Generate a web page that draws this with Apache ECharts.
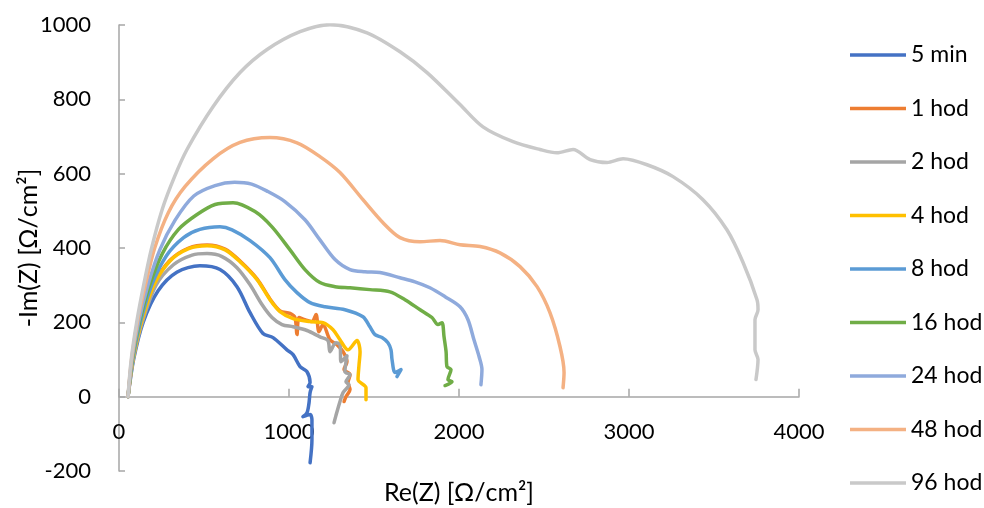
<!DOCTYPE html>
<html>
<head>
<meta charset="utf-8">
<script src="https://cdn.jsdelivr.net/npm/echarts@6/dist/echarts.min.js"></script>
<style>
  html, body { margin: 0; padding: 0; background: #fff; }
  #chart { width: 984px; height: 508px; }
</style>
</head>
<body>
<div id="chart"></div>
<script>
// Nyquist spectra, [Re(Z), -Im(Z)] pairs in Ω/cm²
const seriesNames = ['5 min', '1 hod', '2 hod', '4 hod', '8 hod', '16 hod', '24 hod', '48 hod', '96 hod'];
const seriesColors = ['#4472C4', '#ED7D31', '#A5A5A5', '#FFC000', '#5B9BD5', '#70AD47', '#8FAADC', '#F4B183', '#C9C9C9'];

const min5 = [[53,0],[86,100],[142,200],[230,285],[340,335],[476,352],[594,342],[694,296],[771,226],[847,170],[906,159],[988,126],[1024,113],[1065,81],[1106,67],[1124,38],[1112,27],[1135,27],[1124,11],[1118,-16],[1106,-43],[1082,-54],[1124,-48],[1135,-62],[1135,-116],[1124,-178]];
const hod1 = [[53,0],[82,100],[132,200],[205,302],[300,367],[410,400],[518,408],[624,397],[712,365],[812,317],[888,263],[947,231],[1006,224],[1035,213],[1047,167],[1059,213],[1094,207],[1135,202],[1159,221],[1176,175],[1200,194],[1241,153],[1282,140],[1318,121],[1341,94],[1324,73],[1359,59],[1347,38],[1359,19],[1335,0],[1324,-13]];
const hod2 = [[53,0],[84,100],[137,200],[218,300],[320,355],[430,381],[518,385],[606,377],[694,347],[771,301],[841,248],[900,213],[959,194],[1024,188],[1106,178],[1182,161],[1229,151],[1241,121],[1276,145],[1300,140],[1306,94],[1341,110],[1329,67],[1359,59],[1335,40],[1353,32],[1318,11],[1300,-13],[1276,-51],[1265,-70]];
const hod4 = [[53,0],[82,100],[132,200],[205,300],[300,365],[410,398],[518,406],[624,395],[712,363],[812,315],[888,261],[947,229],[1024,210],[1124,202],[1200,199],[1259,180],[1300,153],[1347,126],[1400,151],[1418,121],[1412,86],[1406,46],[1453,24],[1453,-8]];
const hod8 = [[53,0],[80,100],[126,200],[192,300],[280,380],[380,428],[476,450],[594,457],[665,449],[771,420],[888,374],[976,315],[1047,280],[1124,253],[1212,242],[1329,234],[1435,215],[1476,188],[1506,167],[1547,159],[1582,145],[1600,126],[1606,100],[1624,65],[1659,73],[1635,54]];
const hod16 = [[53,0],[78,100],[120,200],[180,300],[255,385],[350,450],[459,490],[565,517],[671,522],[800,498],[900,457],[1006,395],[1094,342],[1182,307],[1271,296],[1359,293],[1476,288],[1594,282],[1682,261],[1771,234],[1841,213],[1876,194],[1900,199],[1912,161],[1924,121],[1929,81],[1953,73],[1935,46],[1959,40],[1918,30]];
const hod24 = [[53,0],[76,100],[115,200],[170,300],[240,395],[330,475],[440,540],[565,568],[680,577],[780,572],[876,552],[976,525],[1094,476],[1182,422],[1271,369],[1359,342],[1447,336],[1535,334],[1653,320],[1741,309],[1829,293],[1918,269],[2006,242],[2053,207],[2088,153],[2118,108],[2135,73],[2129,32]];
const hod48 = [[53,0],[74,100],[108,200],[155,300],[210,400],[290,495],[388,565],[553,640],[712,684],[888,697],[1047,683],[1182,646],[1300,603],[1435,530],[1553,468],[1653,428],[1771,417],[1888,420],[2006,409],[2124,404],[2241,387],[2359,350],[2459,296],[2535,226],[2594,135],[2618,65],[2612,24]];
const hod96 = [[53,0],[72,100],[104,200],[145,300],[192,400],[255,505],[325,590],[400,665],[553,780],[712,872],[871,934],[1065,982],[1241,1001],[1459,979],[1653,928],[1812,872],[2006,786],[2141,726],[2318,686],[2476,665],[2576,656],[2671,665],[2771,638],[2871,630],[2965,640],[3106,624],[3259,592],[3435,530],[3576,449],[3671,361],[3753,261],[3759,234],[3741,207],[3741,126],[3759,100],[3747,46]];

const seriesData = [min5, hod1, hod2, hod4, hod8, hod16, hod24, hod48, hod96];

// Axis ranges and tick spacing
const xMin = 0, xMax = 4000, xStep = 1000;
const yMin = -200, yMax = 1000, yStep = 200;

const fontFamily = 'Lato, "Open Sans", sans-serif';
const axisGray = '#A6A6A6';
const textColor = '#000000';
const plain = v => String(v);

const chart = echarts.init(document.getElementById('chart'), null, { renderer: 'canvas' });

chart.setOption({
  animation: false,
  backgroundColor: '#ffffff',
  grid: { left: 119, right: 185, top: 25, bottom: 37, containLabel: false, outerBoundsMode: 'none' },
  legend: {
    orient: 'vertical',
    left: 845,
    top: 38,
    icon: 'rect',
    itemWidth: 56,
    itemHeight: 3.5,
    itemGap: 29.5,
    textStyle: { fontFamily, fontSize: 23, color: textColor, lineHeight: 24, padding: [0, 0, 0, 0] },
    data: seriesNames
  },
  xAxis: {
    type: 'value',
    min: xMin, max: xMax, interval: xStep,
    name: 'Re(Z) [Ω/cm²]',
    nameLocation: 'middle',
    nameGap: 9,
    nameTextStyle: { fontFamily, fontSize: 25, color: textColor },
    axisLine: { onZero: true, lineStyle: { color: axisGray, width: 1.5 } },
    axisTick: { inside: true, length: 8, lineStyle: { color: axisGray, width: 1.5 } },
    axisLabel: { fontFamily, fontSize: 22, color: textColor, margin: -50, formatter: plain },
    splitLine: { show: false }
  },
  yAxis: {
    type: 'value',
    min: yMin, max: yMax, interval: yStep,
    name: '-Im(Z) [Ω/cm²]',
    nameLocation: 'middle',
    nameGap: 78,
    nameMoveOverlap: false,
    nameTextStyle: { fontFamily, fontSize: 25, color: textColor },
    axisLine: { show: true, onZero: false, lineStyle: { color: axisGray, width: 1.5 } },
    axisTick: { show: true, inside: true, length: 6, lineStyle: { color: axisGray, width: 1.5 } },
    axisLabel: { fontFamily, fontSize: 22, color: textColor, margin: 28, formatter: plain },
    splitLine: { show: false }
  },
  series: seriesNames.map((name, i) => ({
    name,
    type: 'line',
    data: seriesData[i],
    showSymbol: false,
    symbol: 'none',
    smooth: 0.3,
    color: seriesColors[i],
    lineStyle: { width: 3.5, color: seriesColors[i], cap: 'round', join: 'round' },
    z: 2 + i
  }))
});
</script>
</body>
</html>
